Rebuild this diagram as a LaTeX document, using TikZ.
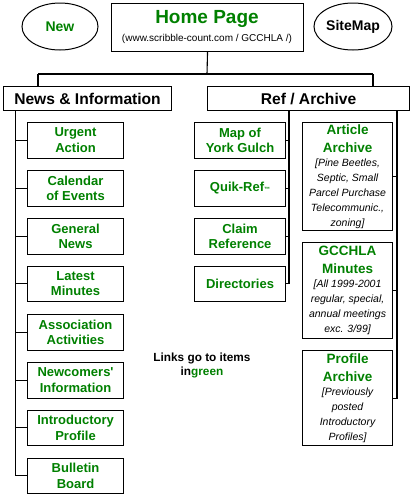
\documentclass[tikz,border=0pt]{standalone}
\usepackage{fontspec}
\setmainfont{Liberation Sans}
\usetikzlibrary{shapes.geometric,calc}
\definecolor{lg}{RGB}{0,128,0}
\tikzset{
  box/.style={draw=black, line width=1.1pt, rectangle, inner sep=0pt, align=center},
  lbox/.style={box, minimum width=96pt, minimum height=35.5pt, anchor=north west,
     font=\fontsize{13}{15.5}\selectfont\bfseries, text=lg},
  mbox/.style={box, minimum width=91pt, minimum height=35.5pt, anchor=north west,
     font=\fontsize{13}{15.5}\selectfont\bfseries, text=lg},
  abox/.style={box, minimum width=90pt, anchor=north west, font=\fontsize{13.5}{13}\selectfont\bfseries},
  oval/.style={draw=black, line width=1pt, ellipse, inner sep=0pt, font=\fontsize{14}{15}\selectfont\bfseries},
  conn/.style={line width=1.1pt, draw=black},
}
\newcommand{\itf}{\fontsize{10.5}{13}\selectfont\mdseries\itshape\color{black}}
\newcommand{\gt}{\color{lg}}
\begin{document}
\begin{tikzpicture}[x=1pt,y=-1pt]
\useasboundingbox (0,0) rectangle (412,496);
% top row
\node[box, minimum width=192pt, minimum height=48pt, anchor=north west] (home) at (111,2.5) {};
\node[font=\fontsize{19}{20}\selectfont\bfseries, text=lg] (hometitle) at (207,19) {Home Page};
\node[font=\fontsize{10}{10}\selectfont] (homesub) at (207,38.5) {(www.scribble-count.com / GCCHLA /)};
\node[oval, minimum width=76pt, minimum height=47pt, text=lg] (new) at (60,26.5) {New};
\node[oval, minimum width=78pt, minimum height=47pt] (sitemap) at (353,26.5) {SiteMap};
% section headers
\node[box, minimum width=168pt, minimum height=24pt, anchor=north west, font=\fontsize{15.6}{17}\selectfont\bfseries] (news) at (3,86) {News \& Information};
\node[box, minimum width=202pt, minimum height=24pt, anchor=north west, font=\fontsize{15.6}{17}\selectfont\bfseries] (ref) at (207,86) {Ref / Archive};
\coordinate (j) at (207,74);
\coordinate (jl) at (38,74);
\coordinate (jr) at (373,74);
\draw[conn] (home.south) -- (j);
\draw[conn] (jl) -- (jr);
\draw[conn] (jl) -- (jl |- news.north);
\draw[conn] (jr) -- (jr |- ref.north);
% left column
\node[lbox] (urgent) at (27,122) {Urgent\\Action};
\node[lbox] (calendar) at (27,170) {Calendar\\of Events};
\node[lbox] (general) at (27,218) {General\\News};
\node[lbox] (latest) at (27,265.5) {Latest\\Minutes};
\node[lbox] (assoc) at (27,314) {Association\\Activities};
\node[lbox] (newcomers) at (27,362) {Newcomers\textquotesingle\\Information};
\node[lbox] (intro) at (27,409.5) {Introductory\\Profile};
\node[lbox] (bulletin) at (27,457.5) {Bulletin\\Board};
\coordinate (ls) at (15.6,110);
\draw[conn] (ls) |- (bulletin.west);
\foreach \n in {urgent,calendar,general,latest,assoc,newcomers,intro}
  \draw[conn] (\n.west) -- (\n.west -| ls);
% middle column
\node[mbox] (map) at (194,122) {Map of\\York Gulch};
\node[mbox] (quik) at (194,170) {Quik-Ref{\fontsize{6}{6}\selectfont ™}};
\node[mbox] (claim) at (194,218) {Claim\\Reference};
\node[mbox] (dirs) at (194,265.5) {Directories};
\coordinate (ms) at (289,110);
\draw[conn] (ms) |- (dirs.east);
\foreach \n in {map,quik,claim}
  \draw[conn] (\n.east) -- (\n.east -| ms);
% right column
\node[abox, minimum height=108pt] (article) at (302,122) {\gt Article\\[5pt]\gt Archive\\[1pt]\itf [Pine Beetles,\\[2pt]\itf Septic, Small\\[2pt]\itf Parcel Purchase\\[2pt]\itf Telecommunic.,\\[2pt]\itf zoning]};
\node[abox, minimum height=96pt] (gcchla) at (302,242) {\gt GCCHLA\\[5pt]\gt Minutes\\[1pt]\itf [All 1999-2001\\[2pt]\itf regular, special,\\[2pt]\itf annual meetings\\[2pt]\itf exc. 3/99]};
\node[abox, minimum height=95pt] (profile) at (302,350) {\gt Profile\\[5pt]\gt Archive\\[1pt]\itf [Previously\\[2pt]\itf posted\\[2pt]\itf Introductory\\[2pt]\itf Profiles]};
\coordinate (rs) at (397,110);
\draw[conn] (rs) |- (profile.east);
\foreach \n in {article,gcchla}
  \draw[conn] (\n.east) -- (\n.east -| rs);
% note
\node[align=center, font=\fontsize{11.8}{14.5}\selectfont\bfseries] (note) at (202,365.5) {Links go to items\\in{\color{lg}green}};
\end{tikzpicture}
\end{document}
